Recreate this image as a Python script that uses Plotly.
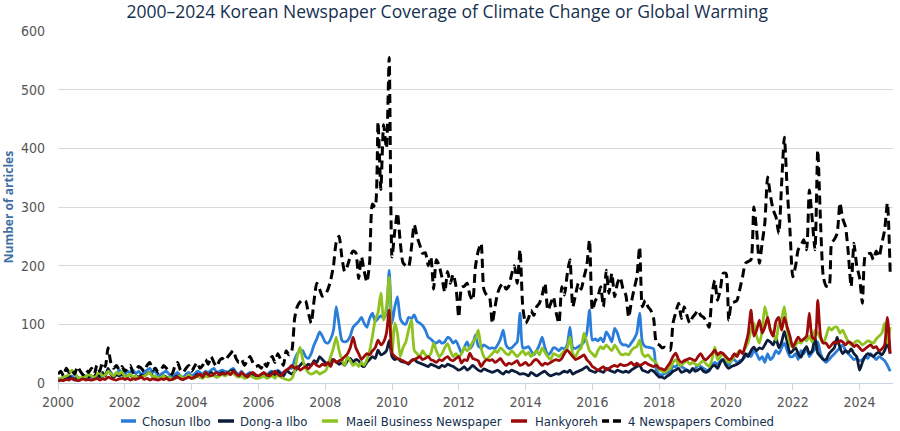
import pandas as pd
import plotly.graph_objects as go

months = pd.date_range("2000-01-01", "2024-12-01", freq="MS")

chosun = [
    5, 8, 6, 10, 7, 12, 8, 10, 6, 9, 12, 8,
    10, 8, 12, 15, 10, 14, 20, 18, 12, 15, 22, 18,
    15, 20, 18, 22, 16, 20, 15, 18, 22, 25, 18, 20,
    12, 15, 18, 20, 15, 10, 14, 18, 12, 10, 15, 18,
    12, 15, 20, 18, 15, 20, 18, 22, 25, 18, 20, 22,
    20, 18, 22, 25, 18, 15, 20, 12, 15, 18, 14, 12,
    10, 12, 15, 12, 18, 20, 15, 22, 18, 12, 20, 25,
    25, 40, 50, 55, 55, 45, 42, 50, 65, 75, 87, 80,
    70, 68, 75, 90, 130, 100, 73, 70, 72, 80, 95, 100,
    105, 112, 102, 95, 110, 119, 105, 110, 115, 110, 120, 192,
    102, 130, 147, 110, 102, 100, 112, 110, 116, 105, 102, 98,
    90, 78, 75, 70, 68, 72, 68, 70, 78, 75, 68, 72,
    62, 51, 60, 70, 59, 65, 82, 63, 60, 65, 62, 59,
    60, 59, 65, 75, 90, 65, 59, 60, 65, 70, 119, 60,
    60, 62, 55, 48, 55, 65, 78, 60, 48, 52, 60, 59,
    55, 60, 58, 65, 95, 60, 59, 62, 65, 70, 85, 124,
    73, 75, 72, 77, 70, 87, 80, 70, 93, 85, 70, 65,
    65, 62, 68, 75, 85, 119, 70, 62, 61, 60, 58, 22,
    15, 14, 16, 18, 20, 28, 28, 32, 28, 25, 22, 20,
    22, 25, 30, 28, 25, 22, 20, 30, 35, 32, 38, 40,
    35, 30, 38, 40, 35, 38, 40, 45, 50, 45, 55, 50,
    40, 45, 35, 50, 40, 45, 55, 50, 60, 68, 55, 45,
    45, 50, 40, 55, 50, 60, 45, 52, 58, 70, 50, 40,
    35, 40, 45, 50, 55, 60, 65, 55, 50, 45, 40, 42,
    38, 40, 45, 42, 50, 45, 40, 45, 42, 38, 30, 20,
]

donga = [
    8, 5, 10, 6, 12, 8, 5, 10, 7, 9, 6, 10,
    12, 8, 15, 10, 18, 12, 25, 15, 10, 14, 12, 15,
    10, 12, 15, 8, 12, 10, 14, 12, 16, 18, 12, 10,
    8, 10, 12, 10, 8, 6, 10, 12, 8, 6, 10, 12,
    8, 10, 15, 10, 12, 15, 12, 18, 14, 10, 15, 18,
    15, 18, 20, 22, 15, 12, 15, 10, 12, 15, 12, 10,
    12, 10, 15, 12, 15, 18, 12, 20, 15, 12, 22, 18,
    15, 20, 25, 30, 35, 28, 32, 30, 38, 35, 45, 40,
    35, 30, 38, 40, 36, 32, 35, 30, 38, 42, 36, 40,
    38, 30, 28, 35, 40, 45, 42, 56, 48, 50, 55, 72,
    45, 40, 42, 38, 36, 35, 32, 38, 40, 36, 34, 32,
    30, 28, 32, 30, 28, 26, 30, 28, 32, 30, 28, 25,
    22, 24, 28, 22, 25, 30, 26, 22, 20, 24, 22, 20,
    18, 20, 22, 18, 15, 20, 18, 22, 20, 18, 15, 16,
    15, 12, 18, 15, 12, 15, 18, 20, 15, 12, 14, 16,
    15, 18, 20, 18, 22, 15, 18, 20, 22, 25, 28, 22,
    20, 18, 22, 20, 18, 25, 22, 20, 18, 22, 20, 18,
    20, 18, 22, 25, 28, 30, 22, 20, 18, 22, 20, 15,
    10, 10, 8, 12, 15, 20, 22, 25, 18, 20, 22, 18,
    25, 20, 22, 25, 20, 18, 22, 28, 30, 25, 35, 40,
    30, 25, 28, 30, 32, 35, 40, 50, 45, 55, 61, 55,
    60, 58, 65, 73, 70, 65, 77, 60, 70, 88, 70, 51,
    55, 60, 50, 44, 55, 62, 50, 55, 78, 51, 45, 40,
    40, 50, 55, 60, 78, 60, 50, 55, 52, 58, 50, 45,
    22, 35, 45, 50, 48, 45, 50, 52, 48, 55, 68, 50,
]

maeil = [
    5, 8, 10, 12, 15, 22, 18, 10, 8, 12, 10, 15,
    12, 10, 15, 18, 12, 14, 20, 16, 12, 18, 15, 20,
    10, 12, 15, 10, 12, 8, 10, 12, 15, 18, 10, 12,
    8, 10, 12, 8, 10, 6, 8, 10, 12, 8, 10, 14,
    10, 8, 12, 10, 8, 12, 10, 14, 12, 10, 12, 15,
    12, 15, 18, 16, 12, 10, 12, 8, 10, 12, 10, 8,
    8, 10, 12, 8, 10, 12, 8, 14, 10, 8, 6, 5,
    8, 20, 45, 61, 40, 25, 18, 15, 17, 20, 15, 18,
    20, 30, 45, 60, 78, 55, 40, 30, 45, 38, 30, 34,
    28, 35, 30, 40, 55, 80, 107, 120, 153, 107, 130, 180,
    51, 102, 85, 45, 60, 70, 90, 107, 56, 50, 45, 55,
    48, 45, 50, 68, 55, 45, 50, 60, 67, 55, 45, 50,
    45, 50, 61, 55, 60, 70, 75, 90, 60, 45, 40, 45,
    50, 55, 52, 60, 56, 50, 48, 55, 50, 45, 50, 55,
    48, 52, 45, 50, 55, 48, 60, 52, 45, 40, 50, 48,
    45, 50, 55, 60, 78, 50, 45, 55, 60, 85, 70, 55,
    50, 45, 55, 62, 58, 65, 60, 55, 65, 58, 50, 48,
    50, 48, 55, 60, 62, 73, 50, 45, 48, 42, 38, 34,
    22, 20, 18, 22, 25, 35, 40, 32, 30, 35, 38, 32,
    35, 32, 30, 35, 38, 32, 28, 40, 61, 40, 45, 50,
    40, 35, 38, 45, 50, 55, 51, 60, 70, 90, 102, 80,
    68, 90, 130, 110, 90, 85, 73, 100, 110, 130, 90, 68,
    61, 65, 70, 68, 75, 72, 80, 70, 90, 85, 75, 68,
    80, 95, 90, 95, 95, 85, 90, 80, 70, 65, 68, 72,
    70, 65, 68, 72, 70, 68, 75, 80, 85, 102, 68, 95,
]

hankyoreh = [
    3, 5, 4, 6, 5, 8, 6, 4, 5, 7, 5, 6,
    5, 6, 8, 5, 7, 6, 10, 8, 6, 5, 7, 8,
    6, 8, 5, 7, 6, 8, 10, 6, 8, 5, 7, 6,
    5, 7, 6, 8, 5, 6, 8, 10, 7, 6, 8, 10,
    8, 10, 12, 15, 10, 18, 14, 12, 15, 18, 14, 16,
    15, 18, 14, 20, 16, 12, 18, 14, 10, 15, 18, 14,
    12, 15, 18, 14, 12, 16, 20, 15, 12, 18, 22, 25,
    30, 25, 28, 22, 25, 28, 24, 30, 35, 30, 28, 32,
    30, 35, 28, 40, 35, 38, 40, 45, 50, 60, 78, 60,
    50, 40, 45, 50, 48, 55, 60, 73, 65, 70, 85, 124,
    51, 45, 42, 40, 38, 35, 34, 38, 40, 42, 45, 40,
    42, 45, 40, 38, 35, 40, 38, 42, 45, 40, 38, 42,
    45, 34, 40, 38, 51, 42, 40, 38, 28, 35, 40, 38,
    40, 35, 38, 42, 35, 30, 34, 32, 35, 38, 30, 32,
    35, 30, 32, 38, 40, 35, 30, 34, 32, 35, 38, 40,
    38, 42, 50, 56, 51, 45, 40, 42, 45, 48, 40, 35,
    28, 25, 22, 25, 28, 22, 25, 28, 30, 28, 32, 30,
    30, 32, 35, 30, 34, 30, 32, 35, 32, 30, 28, 30,
    25, 24, 22, 28, 35, 45, 51, 40, 35, 38, 40, 42,
    40, 38, 45, 50, 42, 40, 45, 50, 56, 48, 52, 50,
    45, 40, 42, 50, 45, 55, 50, 65, 85, 124, 80, 90,
    107, 85, 95, 112, 90, 80, 105, 112, 90, 112, 95, 80,
    61, 70, 78, 72, 75, 80, 119, 78, 75, 141, 80, 68,
    68, 60, 65, 70, 68, 72, 70, 65, 70, 68, 62, 65,
    60, 55, 58, 62, 65, 60, 62, 55, 58, 65, 112, 51,
]

combined = [
    15, 20, 12, 25, 18, 22, 15, 28, 20, 14, 22, 18,
    25, 15, 30, 20, 35, 28, 60, 35, 25, 30, 22, 28,
    20, 25, 30, 18, 22, 28, 25, 20, 30, 35, 22, 25,
    18, 22, 30, 25, 20, 15, 28, 35, 22, 18, 25, 30,
    20, 28, 35, 25, 30, 40, 32, 45, 35, 28, 38, 42,
    38, 45, 50, 55, 42, 35, 40, 30, 38, 45, 35, 28,
    30, 25, 35, 28, 40, 45, 35, 50, 40, 30, 55, 48,
    55, 110, 130, 138, 142, 140, 120, 102, 140, 170, 160, 148,
    150, 160, 175, 200, 240, 250, 215, 190, 200, 215, 225, 222,
    178, 215, 192, 172, 205, 305, 300, 445, 330, 440, 400, 555,
    215, 260, 290, 240, 205, 200, 198, 230, 270, 250, 235, 221,
    222, 200, 215, 160, 210, 200, 180, 155, 190, 170, 185, 165,
    112, 163, 165, 170, 150, 141, 198, 225, 238, 160, 150, 147,
    102, 130, 153, 165, 170, 160, 165, 185, 200, 170, 227, 130,
    102, 110, 124, 115, 130, 136, 150, 170, 124, 135, 147, 120,
    102, 164, 150, 185, 210, 130, 150, 170, 160, 180, 200, 244,
    124, 140, 147, 164, 130, 192, 153, 187, 147, 170, 180, 160,
    150, 112, 136, 160, 180, 232, 130, 141, 130, 124, 110, 68,
    65, 60, 61, 58, 56, 102, 120, 136, 110, 130, 115, 102,
    112, 118, 124, 115, 112, 105, 95, 150, 175, 141, 160, 187,
    187, 107, 136, 138, 141, 160, 181, 204, 207, 210, 300, 261,
    204, 240, 272, 351, 320, 295, 283, 255, 340, 419, 330, 261,
    181, 200, 227, 235, 244, 227, 329, 280, 227, 397, 272, 181,
    165, 164, 238, 245, 255, 307, 280, 266, 220, 164, 238, 200,
    180, 136, 215, 220, 221, 210, 225, 215, 238, 260, 307, 189,
]

series = [
    ("Chosun Ilbo", chosun, "#2a7dd8", None, 2.8),
    ("Dong-a Ilbo", donga, "#0b1d3a", None, 2.8),
    ("Maeil Business Newspaper", maeil, "#8dc21f", None, 2.8),
    ("Hankyoreh", hankyoreh, "#9c0a0a", None, 2.8),
    ("4 Newspapers Combined", combined, "#000000", "9px,5px", 3),
]

tick_years = list(range(2000, 2025, 2))

NARROW = "DejaVu Sans Condensed, Roboto"
TEXT_DARK = "#16304f"

# page geometry of the plot area (px)
PL, PR, PT, PB = 58, 893, 31, 383


def px_to_paper_x(px):
    return (px - PL) / (PR - PL)


def px_to_paper_y(py):
    return (PB - py) / (PB - PT)


fig = go.Figure()
for name, vals, color, dash, width in series:
    line = dict(color=color, width=width, shape="spline", smoothing=0.6)
    if dash:
        line["dash"] = dash
    fig.add_trace(go.Scatter(x=months, y=vals, name=name, mode="lines",
                             line=line, showlegend=False))

# hand-placed legend row (swatch start/end and label start, in page px)
legend_slots = [(121, 136, 140), (218, 234, 238), (322, 338, 344),
                (511, 527, 533), (602, 621, 626)]
legend_y = px_to_paper_y(421)
shapes = []
annotations = []
for (name, _, color, dash, _w), (s0, s1, tx) in zip(series, legend_slots):
    if dash:
        for a, b in [(s0, s0 + 7), (s0 + 11, s1)]:
            shapes.append(dict(type="line", xref="paper", yref="paper",
                               x0=px_to_paper_x(a), x1=px_to_paper_x(b),
                               y0=legend_y, y1=legend_y,
                               line=dict(color=color, width=3.5)))
    else:
        shapes.append(dict(type="line", xref="paper", yref="paper",
                           x0=px_to_paper_x(s0), x1=px_to_paper_x(s1),
                           y0=legend_y, y1=legend_y,
                           line=dict(color=color, width=3.5)))
    annotations.append(dict(text=name, xref="paper", yref="paper",
                            x=px_to_paper_x(tx), y=legend_y,
                            xanchor="left", yanchor="middle", showarrow=False,
                            font=dict(family=NARROW, size=13, color=TEXT_DARK)))

fig.update_layout(
    width=900, height=431,
    margin=dict(l=PL, r=900 - PR, t=PT, b=431 - PB, autoexpand=False),
    paper_bgcolor="white", plot_bgcolor="white",
    title=dict(
        text="2000–2024 Korean Newspaper Coverage of Climate Change or Global Warming",
        x=0.497, xanchor="center", y=0.972, yanchor="middle",
        font=dict(family="Open Sans", size=17.5, color=TEXT_DARK, weight=500),
    ),
    font=dict(family=NARROW, size=13, color="#555555"),
    showlegend=False,
    shapes=shapes,
    annotations=annotations,
)

fig.update_xaxes(
    type="date", automargin=False,
    range=["2000-01-01", "2025-01-01"],
    tickvals=[f"{y}-01-01" for y in tick_years],
    ticktext=[str(y) for y in tick_years],
    showgrid=False,
    showline=True, linecolor="#c8d4e3", linewidth=1,
    ticks="outside", ticklen=6, tickcolor="#c8d4e3",
    tickfont=dict(family=NARROW, size=14, color="#555555"),
    zeroline=False,
)
fig.update_yaxes(
    range=[0, 600], dtick=100, automargin=False,
    showgrid=True, gridcolor="#d9d9d9", gridwidth=1,
    zeroline=False, showline=False,
    tickfont=dict(family=NARROW, size=14, color="#555555"),
    ticklabelstandoff=12,
    title=dict(text="Number of articles", standoff=14,
               font=dict(family="Open Sans", size=12, color="#3e6fa3", weight="bold")),
)

fig.write_html(
    "out.html",
    config={"displayModeBar": False},
    post_script="document.body.style.margin='0px';document.body.style.padding='0px';",
)
